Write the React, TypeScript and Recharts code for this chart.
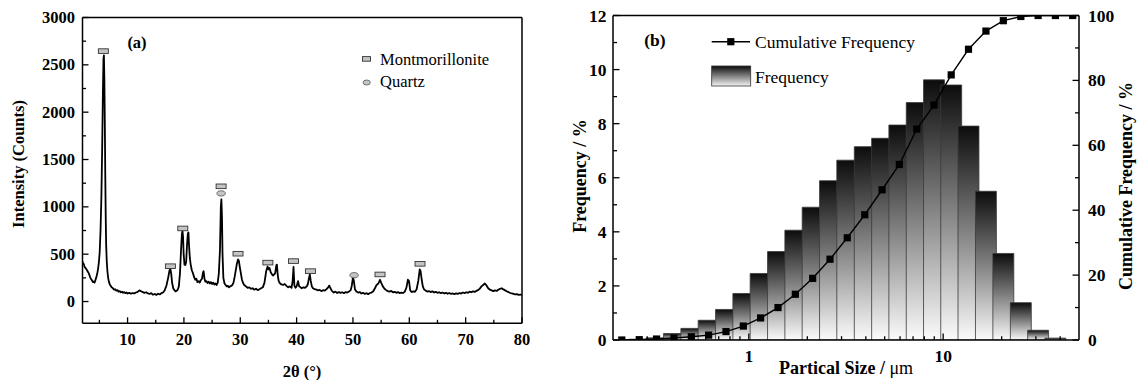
import React from 'react';
import { ComposedChart, Line, Scatter, XAxis, YAxis, ReferenceArea, ReferenceLine } from 'recharts';

// ---------- (a) XRD pattern ----------
const xrdAngle = [
  2.0, 2.1, 2.2, 2.35, 2.5, 2.65, 2.8, 2.95, 3.1, 3.25, 3.4, 3.55, 3.7, 3.85, 4.0, 4.15, 4.3, 4.45, 4.6, 4.75,
  4.9, 5.05, 5.2, 5.35, 5.5, 5.62, 5.72, 5.8, 5.88, 5.96, 6.04, 6.12, 6.2, 6.3, 6.42, 6.55, 6.7, 6.85, 7.0, 7.2,
  7.4, 7.6, 7.8, 8.0, 8.2, 8.4, 8.6, 8.8, 9.0, 9.2, 9.4, 9.6, 9.8, 10.0, 10.3, 10.6, 10.9, 11.2, 11.5, 11.8,
  12.1, 12.4, 12.7, 13.0, 13.3, 13.6, 13.9, 14.2, 14.5, 14.8, 15.1, 15.4, 15.7, 16.0, 16.3, 16.6, 16.9, 17.2, 17.45, 17.6,
  17.75, 17.9, 18.1, 18.3, 18.5, 18.7, 18.9, 19.1, 19.3, 19.5, 19.65, 19.75, 19.85, 19.95, 20.1, 20.25, 20.4, 20.55, 20.7, 20.8,
  20.9, 21.05, 21.2, 21.4, 21.6, 21.8, 22.0, 22.2, 22.4, 22.6, 22.8, 23.0, 23.2, 23.4, 23.5, 23.65, 23.8, 24.0, 24.2, 24.4,
  24.6, 24.8, 25.0, 25.2, 25.4, 25.6, 25.8, 26.0, 26.2, 26.4, 26.55, 26.65, 26.75, 26.85, 27.0, 27.2, 27.4, 27.6, 27.8, 28.0,
  28.2, 28.4, 28.6, 28.8, 29.0, 29.2, 29.4, 29.6, 29.75, 29.9, 30.1, 30.3, 30.5, 30.7, 31.0, 31.3, 31.6, 31.9, 32.2, 32.5,
  32.8, 33.1, 33.4, 33.7, 34.0, 34.3, 34.6, 34.85, 35.0, 35.2, 35.4, 35.6, 35.8, 36.0, 36.2, 36.4, 36.5, 36.65, 36.8, 37.0,
  37.3, 37.6, 37.9, 38.2, 38.5, 38.8, 39.1, 39.3, 39.45, 39.6, 39.8, 40.0, 40.25, 40.45, 40.7, 40.9, 41.2, 41.5, 41.8, 42.0,
  42.2, 42.35, 42.5, 42.7, 42.9, 43.2, 43.5, 43.8, 44.1, 44.4, 44.7, 45.0, 45.3, 45.6, 45.8, 46.0, 46.3, 46.6, 46.9, 47.2,
  47.5, 47.8, 48.1, 48.4, 48.7, 49.0, 49.3, 49.6, 49.8, 50.0, 50.15, 50.35, 50.6, 50.9, 51.2, 51.5, 51.8, 52.1, 52.4, 52.7,
  53.0, 53.3, 53.6, 53.9, 54.2, 54.5, 54.8, 55.0, 55.3, 55.6, 55.9, 56.2, 56.5, 56.8, 57.1, 57.4, 57.7, 58.0, 58.3, 58.6,
  58.9, 59.2, 59.5, 59.75, 59.95, 60.15, 60.4, 60.7, 61.0, 61.3, 61.6, 61.85, 62.0, 62.2, 62.4, 62.6, 62.9, 63.2, 63.5, 63.8,
  64.1, 64.4, 64.7, 65.0, 65.3, 65.6, 65.9, 66.2, 66.5, 66.8, 67.1, 67.4, 67.7, 68.0, 68.3, 68.6, 68.9, 69.2, 69.5, 69.8,
  70.1, 70.4, 70.7, 71.0, 71.3, 71.6, 71.9, 72.2, 72.5, 72.8, 73.1, 73.4, 73.7, 74.0, 74.3, 74.6, 74.9, 75.2, 75.5, 75.8,
  76.1, 76.4, 76.7, 77.0, 77.3, 77.6, 77.9, 78.2, 78.5, 78.8, 79.1, 79.4, 79.7, 80.0,
];
const xrdIntensity = [
  425, 395, 400, 370, 355, 345, 330, 315, 300, 275, 250, 235, 222, 205, 210, 200, 228, 255, 290, 340,
  410, 520, 750, 1100, 1650, 2200, 2560, 2600, 2350, 1900, 1350, 900, 600, 430, 320, 250, 205, 180, 165, 150,
  140, 125, 130, 115, 120, 105, 110, 98, 104, 92, 100, 88, 95, 85, 92, 82, 90, 86, 95, 102,
  118, 108, 100, 92, 98, 86, 80, 88, 72, 80, 70, 82, 75, 88, 95, 120, 170, 250, 330, 345,
  290, 200, 140, 120, 108, 112, 125, 160, 300, 560, 720, 745, 680, 500, 390, 385, 420, 600, 720, 730,
  600, 460, 390, 330, 300, 260, 230, 240, 205, 215, 200, 225, 240, 310, 320, 240, 210, 215, 195, 210,
  190, 205, 185, 200, 180, 190, 175, 200, 300, 550, 1000, 1080, 900, 500, 250, 190, 175, 160, 165, 150,
  160, 165, 175, 200, 260, 330, 400, 445, 430, 370, 300, 230, 195, 175, 160, 145, 150, 135, 140, 125,
  135, 120, 130, 140, 150, 200, 320, 370, 340, 355, 310, 290, 275, 285, 300, 385, 390, 280, 220, 195,
  180, 175, 185, 165, 150, 160, 145, 220, 365, 170, 145, 160, 215, 160, 150, 140, 150, 145, 160, 185,
  250, 285, 220, 160, 140, 130, 125, 118, 122, 110, 120, 115, 130, 150, 168, 140, 110, 95, 105, 90,
  100, 92, 98, 88, 100, 95, 105, 120, 170, 255, 220, 130, 105, 95, 100, 85, 92, 80, 88, 78,
  90, 95, 108, 140, 175, 190, 230, 200, 160, 135, 120, 110, 105, 112, 98, 102, 92, 100, 88, 95,
  90, 105, 150, 230, 215, 120, 100, 108, 102, 130, 220, 340, 320, 230, 160, 130, 115, 105, 110, 100,
  108, 95, 102, 92, 98, 88, 95, 85, 92, 82, 90, 80, 85, 78, 86, 80, 90, 84, 95, 88,
  98, 92, 104, 98, 108, 102, 112, 120, 135, 160, 175, 190, 170, 140, 125, 118, 110, 118, 112, 125,
  135, 140, 128, 118, 108, 100, 90, 85, 80, 75, 78, 70, 74, 68,
];
const montAngle = [5.7, 17.6, 19.8, 26.6, 29.6, 34.9, 39.45, 42.45, 54.8, 61.9];
const montIntensity = [2645, 373, 772, 1217, 505, 411, 427, 321, 286, 398];
const quartzAngle = [26.6, 50.2];
const quartzIntensity = [1142, 278];
const xrdXTicks = [5, 10, 15, 20, 25, 30, 35, 40, 45, 50, 55, 60, 65, 70, 75, 80];
const xrdYTicks = [0, 250, 500, 750, 1000, 1250, 1500, 1750, 2000, 2250, 2500, 2750, 3000];

// ---------- (b) particle size distribution ----------
const sizeCenters = [
  0.222, 0.273, 0.335, 0.412, 0.506, 0.621, 0.763, 0.937, 1.15, 1.413, 1.735, 2.13, 2.617, 3.21,
  3.95, 4.85, 5.95, 7.31, 8.97, 11.0, 13.5, 16.6, 20.4, 25.1, 30.8, 37.8, 46.4,
];
const frequency = [
  0, 0.03, 0.08, 0.24, 0.43, 0.73, 1.13, 1.72, 2.46, 3.27, 4.06, 4.91, 5.89, 6.65,
  7.15, 7.46, 7.95, 8.78, 9.62, 9.43, 7.91, 5.5, 3.2, 1.38, 0.36, 0.07, 0,
];
const cumulative = [
  0, 0.1, 0.3, 0.6, 1.0, 1.5, 2.6, 4.3, 6.8, 10.0, 14.1, 19.0, 24.9, 31.5,
  38.6, 46.3, 54.1, 65.0, 72.4, 81.7, 89.6, 95.2, 98.4, 99.7, 100, 100, 100,
];
const sizeTicks = [0.3, 0.4, 0.5, 0.6, 0.7, 0.8, 0.9, 1, 2, 3, 4, 5, 6, 7, 8, 9, 10, 20, 30, 40];
const freqTicks = [0, 1, 2, 3, 4, 5, 6, 7, 8, 9, 10, 11, 12];
const cumTicks = [0, 10, 20, 30, 40, 50, 60, 70, 80, 90, 100];

const BIN_HALF = 1.132; // half bar width factor on the log axis
const SERIF = '"Liberation Serif", "Times New Roman", serif';

const xrdRows = xrdAngle.map((x, i) => ({ x, y: xrdIntensity[i] }));
const montRows = montAngle.map((x, i) => ({ x, y: montIntensity[i] }));
const quartzRows = quartzAngle.map((x, i) => ({ x, y: quartzIntensity[i] }));
const psdRows = sizeCenters.map((size, i) => ({ size, cum: cumulative[i] }));

type TickOpts = {
  side: 'left' | 'right' | 'bottom';
  isMajor: (v: number) => boolean;
  showLabel: (v: number) => boolean;
  fontSize: number;
  offset: number;
  major: number;
  minor: number;
};

const makeTick = (o: TickOpts) => (props: any) => {
  const { x, y, payload } = props;
  const v = payload.value;
  const maj = o.isMajor(v);
  const len = maj ? o.major : o.minor;
  const label = o.showLabel(v);
  const common = { fontFamily: SERIF, fontWeight: 700, fontSize: o.fontSize, fill: '#000' };
  if (o.side === 'left') {
    return (
      <g>
        <line x1={x} x2={x + len} y1={y} y2={y} stroke="#000" strokeWidth={1.3} />
        {label && (
          <text x={x - o.offset} y={y} textAnchor="end" dominantBaseline="central" {...common}>{v}</text>
        )}
      </g>
    );
  }
  if (o.side === 'right') {
    return (
      <g>
        <line x1={x} x2={x - len} y1={y} y2={y} stroke="#000" strokeWidth={1.3} />
        {label && (
          <text x={x + o.offset} y={y} textAnchor="start" dominantBaseline="central" {...common}>{v}</text>
        )}
      </g>
    );
  }
  return (
    <g>
      <line x1={x} x2={x} y1={y} y2={y - len} stroke="#000" strokeWidth={1.3} />
      {label && (
        <text x={x} y={y + o.offset} textAnchor="middle" dominantBaseline="central" {...common}>{v}</text>
      )}
    </g>
  );
};

const MontShape = (p: any) => (
  <rect x={p.cx - 5} y={p.cy - 2.3} width={10} height={4.6} fill="#c4c4c4" stroke="#333" strokeWidth={0.9} />
);
const QuartzShape = (p: any) => (
  <ellipse cx={p.cx} cy={p.cy} rx={4.2} ry={2.6} fill="#c4c4c4" stroke="#555" strokeWidth={0.8} />
);
const SquareDot = (p: any) => (
  <rect key={`sq-${p.index}`} x={p.cx - 3.6} y={p.cy - 3.6} width={7.2} height={7.2} fill="#000" />
);

function XrdChart() {
  return (
    <ComposedChart
      width={560}
      height={380}
      data={xrdRows}
      margin={{ top: 17.5, right: 38, bottom: 26.7, left: 32.5 }}
    >
      <XAxis
        dataKey="x"
        type="number"
        domain={[2, 80]}
        allowDataOverflow
        ticks={xrdXTicks}
        interval={0}
        height={30}
        tickSize={0}
        tickMargin={0}
        tickLine={false}
        axisLine={{ stroke: '#000', strokeWidth: 1.5 }}
        tick={makeTick({ side: 'bottom', isMajor: (v) => v % 10 === 0, showLabel: (v) => v % 10 === 0, fontSize: 16.5, offset: 16, major: 6, minor: 3.5 })}
      />
      <YAxis
        type="number"
        domain={[-230, 3000]}
        allowDataOverflow
        ticks={xrdYTicks}
        interval={0}
        width={50}
        tickSize={0}
        tickMargin={0}
        tickLine={false}
        axisLine={{ stroke: '#000', strokeWidth: 1.5 }}
        tick={makeTick({ side: 'left', isMajor: (v) => v % 500 === 0, showLabel: (v) => v % 500 === 0, fontSize: 16.5, offset: 7.5, major: 6, minor: 3.5 })}
      />
      <ReferenceLine y={3000} stroke="#000" strokeWidth={1.5} />
      <ReferenceLine x={80} stroke="#000" strokeWidth={1.5} />
      <Line dataKey="y" type="linear" stroke="#000" strokeWidth={1.8} strokeLinejoin="round" dot={false} isAnimationActive={false} />
      <Scatter data={montRows} dataKey="y" shape={MontShape} isAnimationActive={false} />
      <Scatter data={quartzRows} dataKey="y" shape={QuartzShape} isAnimationActive={false} />
    </ComposedChart>
  );
}

function PsdChart() {
  return (
    <ComposedChart
      width={577}
      height={380}
      data={psdRows}
      margin={{ top: 15.5, right: 18, bottom: 20, left: 13 }}
    >
      <defs>
        <linearGradient id="barGrad" x1="0" y1="0" x2="0" y2="1">
          <stop offset="0%" stopColor="#0c0c0c" />
          <stop offset="100%" stopColor="#fbfbfb" />
        </linearGradient>
      </defs>
      <XAxis
        dataKey="size"
        type="number"
        scale="log"
        domain={[0.2, 50]}
        allowDataOverflow
        ticks={sizeTicks}
        interval={0}
        height={20}
        tickSize={0}
        tickMargin={0}
        tickLine={false}
        axisLine={{ stroke: '#000', strokeWidth: 1.5 }}
        tick={makeTick({ side: 'bottom', isMajor: (v) => v === 1 || v === 10, showLabel: (v) => v === 1 || v === 10, fontSize: 17.5, offset: 15.5, major: 6.5, minor: 3.8 })}
      />
      <YAxis
        yAxisId="left"
        type="number"
        domain={[0, 12]}
        allowDataOverflow
        ticks={freqTicks}
        interval={0}
        width={40}
        tickSize={0}
        tickMargin={0}
        tickLine={false}
        axisLine={{ stroke: '#000', strokeWidth: 1.5 }}
        tick={makeTick({ side: 'left', isMajor: (v) => v % 2 === 0, showLabel: (v) => v % 2 === 0, fontSize: 17.5, offset: 6.5, major: 6.5, minor: 4 })}
      />
      <YAxis
        yAxisId="right"
        orientation="right"
        type="number"
        domain={[0, 100]}
        allowDataOverflow
        ticks={cumTicks}
        interval={0}
        width={40}
        tickSize={0}
        tickMargin={0}
        tickLine={false}
        axisLine={{ stroke: '#000', strokeWidth: 1.5 }}
        tick={makeTick({ side: 'right', isMajor: (v) => v % 20 === 0, showLabel: (v) => v % 20 === 0, fontSize: 17.5, offset: 9, major: 6.5, minor: 4 })}
      />
      <ReferenceLine yAxisId="left" y={12} stroke="#000" strokeWidth={1.5} />
      {sizeCenters.map((c, i) =>
        frequency[i] > 0 ? (
          <ReferenceArea
            key={`bar-${i}`}
            yAxisId="left"
            x1={c / BIN_HALF}
            x2={c * BIN_HALF}
            y1={0}
            y2={frequency[i]}
            fill="url(#barGrad)"
            fillOpacity={1}
            stroke="#3a3a3a"
            strokeWidth={0.8}
            ifOverflow="hidden"
          />
        ) : null
      )}
      <Line
        yAxisId="right"
        dataKey="cum"
        type="linear"
        stroke="#000"
        strokeWidth={1.4}
        dot={SquareDot}
        isAnimationActive={false}
      />
    </ComposedChart>
  );
}

function Overlay() {
  const bold = { fontFamily: SERIF, fontWeight: 700, fill: '#000' } as const;
  const normal = { fontFamily: SERIF, fontWeight: 400, fill: '#000' } as const;
  return (
    <svg width={1137} height={380} style={{ position: 'absolute', left: 0, top: 0, pointerEvents: 'none' }}>
      <defs>
        <linearGradient id="legGrad" x1="0" y1="0" x2="0" y2="1">
          <stop offset="0%" stopColor="#0c0c0c" />
          <stop offset="100%" stopColor="#f4f4f4" />
        </linearGradient>
      </defs>
      {/* (a) */}
      <text x={137} y={42} textAnchor="middle" dominantBaseline="central" fontSize={16.5} {...bold}>(a)</text>
      <text transform="translate(18,164) rotate(-90)" textAnchor="middle" dominantBaseline="central" fontSize={16.5} {...bold}>Intensity (Counts)</text>
      <text x={302} y={371} textAnchor="middle" dominantBaseline="central" fontSize={16.5} {...bold}>2θ (°)</text>
      <rect x={362.5} y={56.6} width={8} height={4.6} fill="#c4c4c4" stroke="#333" strokeWidth={0.9} />
      <text x={380} y={59} dominantBaseline="central" fontSize={16.5} {...normal}>Montmorillonite</text>
      <ellipse cx={366.7} cy={82.5} rx={3.6} ry={2.5} fill="#c4c4c4" stroke="#555" strokeWidth={0.8} />
      <text x={380} y={81.5} dominantBaseline="central" fontSize={16.5} {...normal}>Quartz</text>
      {/* (b) */}
      <text x={655} y={40} textAnchor="middle" dominantBaseline="central" fontSize={17.5} {...bold}>(b)</text>
      <line x1={711.7} x2={750} y1={41.7} y2={41.7} stroke="#000" strokeWidth={1.4} />
      <rect x={727.2} y={38.1} width={7.2} height={7.2} fill="#000" />
      <text x={755} y={41.7} dominantBaseline="central" fontSize={17.5} {...normal}>Cumulative Frequency</text>
      <rect x={711.7} y={66} width={39} height={20} fill="url(#legGrad)" stroke="#333" strokeWidth={0.8} />
      <text x={755} y={76.5} dominantBaseline="central" fontSize={17.5} {...normal}>Frequency</text>
      <text transform="translate(580,176) rotate(-90)" textAnchor="middle" dominantBaseline="central" fontSize={18} {...bold}>Frequency / %</text>
      <text transform="translate(1126,186) rotate(-90)" textAnchor="middle" dominantBaseline="central" fontSize={18} {...bold}>Cumulative Frequency / %</text>
      <text x={846} y={368} textAnchor="middle" dominantBaseline="central" fontSize={18} {...bold}>
        Partical Size / <tspan fontWeight={400}>μm</tspan>
      </text>
    </svg>
  );
}

export default function App() {
  return (
    <div style={{ position: 'absolute', left: 0, top: 0, width: 1137, height: 380, background: '#fff' }}>
      <div style={{ position: 'absolute', left: 0, top: 0 }}>
        <XrdChart />
      </div>
      <div style={{ position: 'absolute', left: 560, top: 0 }}>
        <PsdChart />
      </div>
      <Overlay />
    </div>
  );
}
